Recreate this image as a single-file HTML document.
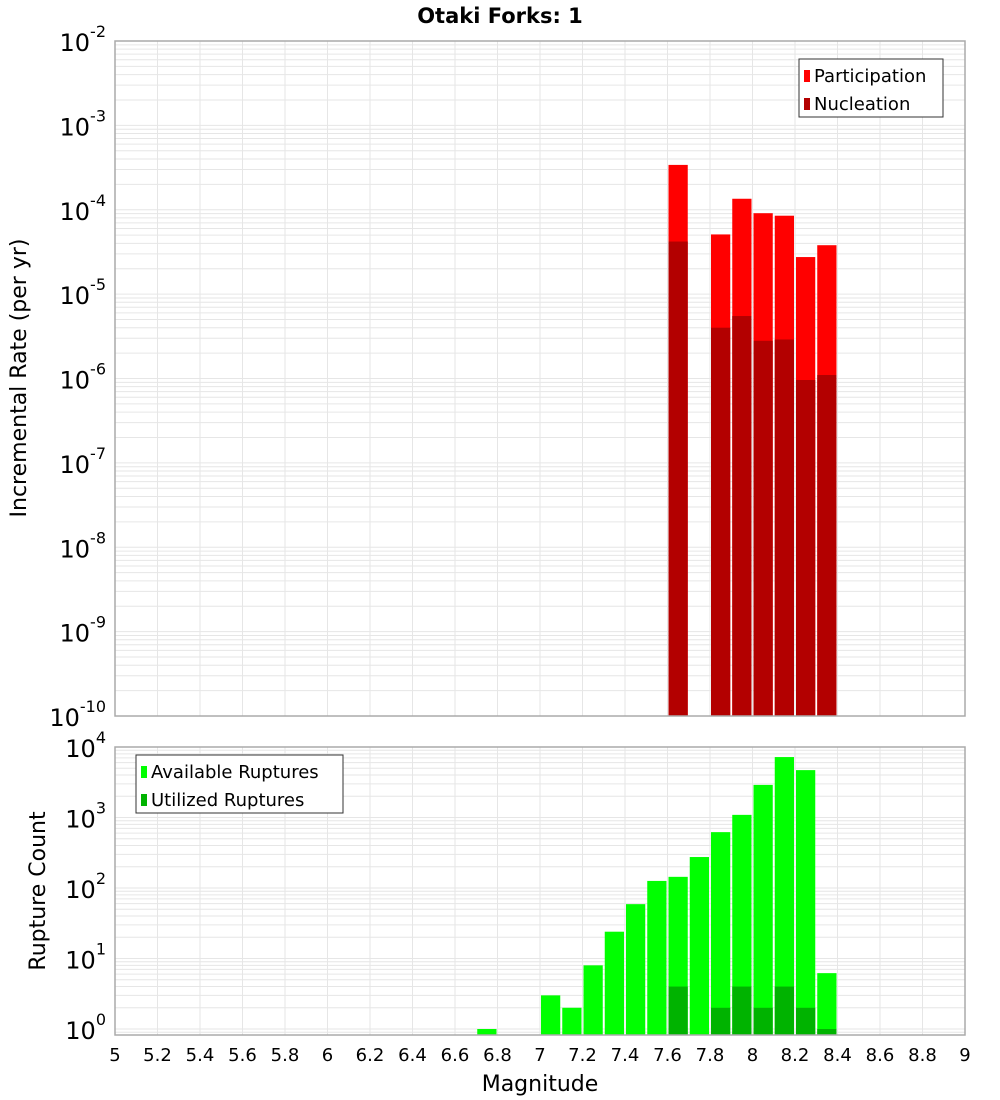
<!DOCTYPE html>
<html><head><meta charset="utf-8"><style>
body{margin:0;background:#fff;}
svg{display:block;font-family:"DejaVu Sans","Liberation Sans",sans-serif;}
</style></head><body>
<svg id="chart" width="1000" height="1100"></svg>
<script>
const magCats=[6.75,7.05,7.15,7.25,7.35,7.45,7.55,7.65,7.75,7.85,7.95,8.05,8.15,8.25,8.35];
const partMags=[7.65,7.85,7.95,8.05,8.15,8.25,8.35];
const partVals=[3.4e-4,5.1e-5,1.35e-4,9.1e-5,8.5e-5,2.75e-5,3.8e-5];
const nuclVals=[4.2e-5,4e-6,5.5e-6,2.8e-6,2.9e-6,9.6e-7,1.1e-6];
const availVals=[1,3,2,8,24,59,126,144,275,620,1090,2900,7200,4700,6.2];
const utilMags=[7.65,7.85,7.95,8.05,8.15,8.25,8.35];
const utilVals=[4,2,4,2,4,2,1];
const xTicks=[5,5.2,5.4,5.6,5.8,6,6.2,6.4,6.6,6.8,7,7.2,7.4,7.6,7.8,8,8.2,8.4,8.6,8.8,9];
const topExps=[-2,-3,-4,-5,-6,-7,-8,-9,-10];
const botExps=[4,3,2,1,0];

const NS="http://www.w3.org/2000/svg";
const svg=document.getElementById('chart');
function mk(t,a,p){const e=document.createElementNS(NS,t);for(const k in a)e.setAttribute(k,a[k]);(p||svg).appendChild(e);return e;}
const X0=115,X1=965;
const xs=v=>X0+(v-5)/4*(X1-X0);
const T0=41,T1=716;
const ysTop=v=>T0+(-2-Math.log10(v))*(T1-T0)/8;
const B0=747,B1=1035,BD=70.5,B10=1029;
const ysBot=v=>B10-Math.log10(v)*BD;

function grid(top,bot,ys,decs){
  const g=mk('g',{});
  
  
  for(let v=5;v<=9.001;v+=0.2){const x=xs(v);mk('line',{x1:x,x2:x,y1:top,y2:bot,stroke:'#e6e6e6','stroke-width':1},g);}
  decs.forEach(d=>{for(let m=1;m<10;m++){const y=ys(m*Math.pow(10,d));if(y>=top&&y<=bot)mk('line',{x1:X0,x2:X1,y1:y,y2:y,stroke:'#e6e6e6','stroke-width':1},g);}});
}
grid(T0,T1,ysTop,[-10,-9,-8,-7,-6,-5,-4,-3,-2]);
grid(B0,B1,ysBot,[-1,0,1,2,3,4]);

const bw=(X1-X0)/40;
function bar(m,v,ys,base,fill,name){
  const y=ys(v);
  const r=mk('rect',{x:xs(m)-bw/2+1,y:y,width:bw-2,height:base-y,fill:fill});
  
  
}
partMags.forEach((m,i)=>bar(m,partVals[i],ysTop,T1,'#ff0000','participation-bar'));
partMags.forEach((m,i)=>bar(m,nuclVals[i],ysTop,T1,'#b30000','nucleation-bar'));
magCats.forEach((m,i)=>bar(m,availVals[i],ysBot,B1,'#00ff00','available-bar'));
utilMags.forEach((m,i)=>bar(m,utilVals[i],ysBot,B1,'#00b300','utilized-bar'));

mk('rect',{x:X0,y:T0,width:X1-X0,height:T1-T0,fill:'none',stroke:'#aaa','stroke-width':1.5,});
mk('rect',{x:X0,y:B0,width:X1-X0,height:B1-B0,fill:'none',stroke:'#aaa','stroke-width':1.5,});

function ylab(e,y,name){
  const t=mk('text',{x:106,y:y+10,'text-anchor':'end','font-size':24,fill:'#000'});
  
  
  const a=mk('tspan',{},t);a.textContent='10';
  const b=mk('tspan',{dy:-14,'font-size':16},t);b.textContent=String(e);
}
topExps.forEach(e=>ylab(e,ysTop(Math.pow(10,e)),'top-y-tick'));
botExps.forEach(e=>ylab(e,ysBot(Math.pow(10,e)),'bottom-y-tick'));
xTicks.forEach(v=>{
  const t=mk('text',{x:xs(v),y:1061,'text-anchor':'middle','font-size':18,fill:'#000'});
  
  
  t.textContent=String(v);
});
function txt(s,a,name){const t=mk('text',a);t.textContent=s;return t;}
txt('Otaki Forks: 1',{x:500,y:23,'text-anchor':'middle','font-size':21,'font-weight':'bold'},'chart-title');
txt('Magnitude',{x:540,y:1091,'text-anchor':'middle','font-size':22},'x-axis-title');
txt('Incremental Rate (per yr)',{x:0,y:0,'text-anchor':'middle','font-size':22,transform:'translate(26,378) rotate(-90)'},'top-y-axis-title');
txt('Rupture Count',{x:0,y:0,'text-anchor':'middle','font-size':22,transform:'translate(45,891) rotate(-90)'},'bottom-y-axis-title');

function legend(x,y,w,items,name){
  const g=mk('g',{});
  
  
  mk('rect',{x:x,y:y,width:w,height:58,fill:'#fff',stroke:'#333','stroke-width':1},g);
  items.forEach((it,i)=>{
    mk('rect',{x:x+5,y:y+11+i*28,width:6,height:12,fill:it[1]},g);
    const t=mk('text',{x:x+15,y:y+23+i*28,'font-size':18},g);t.textContent=it[0];
  });
}
legend(799,59,144,[['Participation','#ff0000'],['Nucleation','#b30000']],'top-legend');
legend(136,755,207,[['Available Ruptures','#00ff00'],['Utilized Ruptures','#00b300']],'bottom-legend');
</script>
</body></html>
